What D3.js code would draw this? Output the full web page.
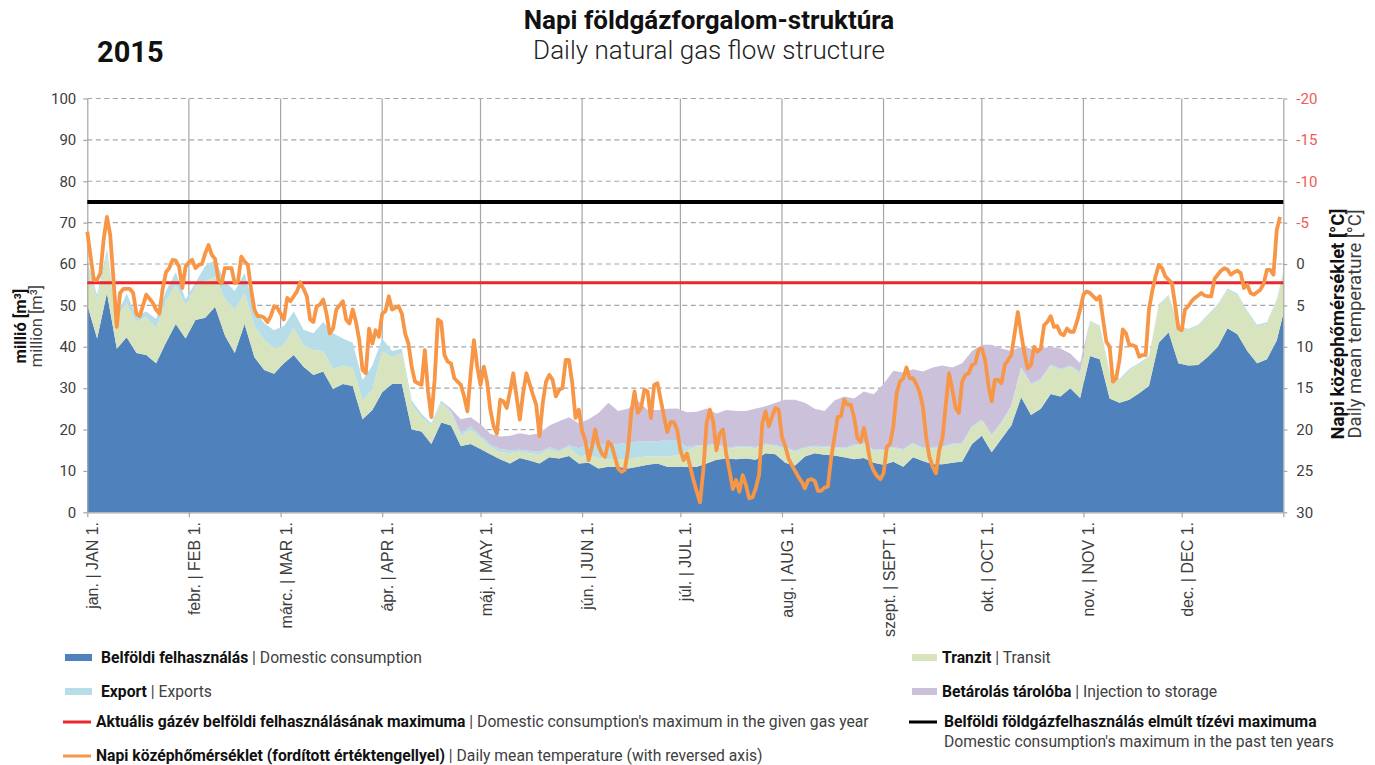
<!DOCTYPE html>
<head>
    <meta charset="utf-8">
    <title>Napi földgázforgalom-struktúra 2015</title>
    <script src="https://d3js.org/d3.v7.min.js"></script>
    <style>
        body { margin: 0; background: #fff; }
        svg { font-family: Roboto, "Open Sans", sans-serif; }
    </style>
</head>
<body>
<div id="container"></div>
<script>
    //------------------------------DATA------------------------------//
    // sampled every 3rd day of 2015 (day 0 = Jan 1), million m3 per day
    var areaDays = [0, 3, 6, 9, 12, 15, 18, 21, 24, 27, 30,
        33, 36, 39, 42, 45, 48, 51, 54, 57,
        60, 63, 66, 69, 72, 75, 78, 81, 84, 87,
        90, 93, 96, 99, 102, 105, 108, 111, 114, 117,
        120, 123, 126, 129, 132, 135, 138, 141, 144, 147,
        150, 153, 156, 159, 162, 165, 168, 171, 174, 177,
        180, 183, 186, 189, 192, 195, 198, 201, 204, 207, 210,
        213, 216, 219, 222, 225, 228, 231, 234, 237, 240,
        243, 246, 249, 252, 255, 258, 261, 264, 267, 270,
        273, 276, 279, 282, 285, 288, 291, 294, 297, 300, 303,
        306, 309, 312, 315, 318, 321, 324, 327, 330, 333,
        336, 339, 342, 345, 348, 351, 354, 357, 360, 363, 365];

    var domestic = [50.1, 42, 53, 39.5, 42.3, 38.5, 38, 36, 41, 45.5, 42,
        46.5, 47, 49.7, 42.7, 38.5, 45.5, 37.5, 34.4, 33.5,
        36, 38, 35.2, 33.2, 34, 29.8, 31, 30.5, 22.5, 24.7,
        29, 31, 31, 20, 19.5, 16.5, 21.7, 21, 16, 16.5,
        15.3, 14, 12.8, 11.8, 13.1, 12.5, 11.8, 13.3, 13, 13.6,
        11.8, 12, 10.6, 11, 11, 10.6, 11, 11.5, 11.8, 11,
        11, 11, 11, 11.8, 12.7, 13, 12.8, 13, 12.7, 14.3, 14,
        12, 11.3, 13.5, 14.3, 13.9, 13.7, 13.3, 12.8, 13.1, 12,
        11.5, 12.2, 11, 13.3, 12.4, 11.6, 11.6, 12, 12.3, 16.5,
        18.5, 14.5, 17.8, 21, 27.8, 23.5, 25, 28.6, 28, 30, 27.6,
        37.8, 37, 27.5, 26.5, 27.2, 28.8, 30.5, 41, 43.5, 36,
        35.5, 35.6, 37.6, 40, 44.5, 43, 39, 36, 37, 41.5, 48];

    var transit = [9.4, 9.5, 9, 7.5, 8.2, 7.5, 9.2, 8.5, 10, 9.5, 8,
        8.1, 8.8, 7.3, 8.8, 10.5, 7.5, 7.5, 7.3, 6,
        4.5, 6.5, 5.2, 6, 5, 4.8, 4.5, 4.5, 4.5, 4.9,
        10, 6.5, 7.5, 6, 3.5, 4.5, 4.8, 3, 2.5, 3.5,
        2.7, 1.8, 1.8, 2.5, 1.6, 1.8, 2.2, 2, 1.5, 2.2,
        1.8, 1.8, 2.5, 1.9, 1.7, 2.2, 2.3, 2, 1.7, 2.5,
        2.8, 4, 4.9, 4.1, 3.6, 2.3, 2.8, 2.7, 2.8, 2, 1.9,
        3.5, 3.3, 2, 1.5, 1.8, 1.8, 2, 3.2, 3.4, 2.8,
        3.5, 3.3, 4, 3.2, 2.9, 3.9, 4, 4.3, 4.2, 4,
        3.7, 4, 3.7, 4.5, 7, 7.3, 7, 6.8, 6.4, 5.2, 6,
        8.2, 7.8, 6.3, 5.5, 7.2, 7, 7, 9, 8.7, 8.9,
        8.5, 9.4, 9.9, 10, 9.2, 9.5, 9.3, 8.9, 8.5, 9.5, 9.8];

    var exportVol = [1.1, 1, 1.5, 0.5, 2.4, 1.5, 1.3, 2.3, 2.5, 3, 1.5,
        0.9, 3.8, 4, 4.3, 4.5, 4.8, 4, 4, 4.5,
        4.5, 4, 3.7, 4.1, 7, 8.7, 6.5, 6, 5, 5.9,
        3, 1.5, 1, 1, 0.8, 0.5, 0.5, 0.5, 0.7, 0.8,
        0.6, 0.5, 0.7, 0.7, 0.4, 0.6, 0.7, 0.4, 0.5, 0.4,
        1.9, 2.7, 3.2, 3.4, 3.8, 4, 3.8, 3.6, 3.7, 4,
        3.7, 0.8, 0.3, 0.3, 0.3, 0.3, 0.3, 0.3, 0.3, 0.3, 0.3,
        0.3, 0.3, 0.3, 0.3, 0.3, 0.3, 0.3, 0.3, 0.3, 0.3,
        0.3, 0.3, 0.3, 0.3, 0.3, 0.3, 0.3, 0.3, 0.3, 0.3,
        0.3, 0.3, 0.3, 0.3, 0.3, 0.3, 0.3, 0.3, 0.3, 0.3, 0.3,
        0.3, 0.3, 0.3, 0.3, 0.3, 0.3, 0.3, 0.3, 0.3, 0.3,
        0.3, 0.3, 0.3, 0.3, 0.4, 0.4, 0.4, 0.4, 0.4, 0.4, 0.4];

    var injection = [0, 0, 0, 0, 0, 0, 0, 0, 0, 0, 0,
        0, 0, 0, 0, 0, 0, 0, 0, 0,
        0, 0, 0, 0, 0, 0, 0, 0, 0, 0,
        0, 0, 0, 0, 0, 0, 0, 0.5, 3.3, 2.2,
        2.7, 2.7, 3, 3.5, 4, 3.8, 4.4, 5.3, 7, 6.8,
        6, 6, 7.7, 10.2, 8, 8.2, 9.9, 7.6, 7.5, 7.5,
        7.6, 8.4, 8.1, 8.9, 7.3, 9.1, 8.6, 8.5, 9.3, 9, 10.3,
        11.4, 12.3, 10.7, 8.9, 8.5, 11.2, 12.4, 11.2, 12.4, 13.4,
        15.7, 18.4, 18.5, 17.8, 18.4, 19.2, 19.6, 18.4, 19.2, 18.2,
        18, 21.7, 17.8, 13.2, 4.9, 8.4, 7.3, 4.3, 4.9, 2.9, 2.1,
        0, 0, 0, 0, 0, 0, 0, 0, 0, 0,
        0, 0, 0, 0, 0, 0, 0, 0, 0, 0, 0];

    // daily mean temperature, °C, one value per day (Jan 1 .. Dec 31)
    var tempC = [
        -3.9, -0.9, 1.9, 1.9, 1.1, -3.0, -5.7, -3.5, 1.9, 7.6,
        3.5, 3.0, 3.0, 3.0, 3.5, 6.0, 6.3, 5.0, 3.7, 4.2,
        4.7, 5.5, 6.0, 3.0, 1.0, 0.5, -0.5, -0.4, 0.3, 2.9,
        0.3, -0.2, -0.5, 0.5, 0.1, 0.0, -1.3, -2.3, -1.1, -0.6,
        1.9, 2.3, 0.5, 0.5, 0.5, 2.3, 2.1, -0.9, -0.3, 0.1,
        3.1, 5.5, 6.3, 6.3, 6.5, 7.0, 6.3, 5.1, 5.3, 6.0,
        6.7, 4.1, 4.5, 3.9, 3.3, 2.2, 3.0, 3.9, 6.7, 7.0,
        5.1, 4.9, 4.3, 6.0, 8.4, 7.8, 5.5, 5.0, 4.5, 6.7,
        7.2, 5.5, 7.0, 9.2, 12.8, 13.2, 7.8, 9.6, 8.0, 8.8,
        6.0, 5.7, 3.9, 5.5, 5.3, 5.1, 6.0, 8.4, 9.6, 12.4,
        14.2, 14.4, 14.6, 10.4, 15.4, 18.5, 14.0, 6.7, 7.0, 11.0,
        11.8, 12.0, 13.8, 14.2, 14.6, 16.0, 17.8, 13.2, 9.2, 12.4,
        14.6, 12.4, 14.2, 17.6, 19.6, 20.5, 16.4, 16.6, 17.4, 15.4,
        13.2, 16.0, 18.8, 15.6, 13.2, 14.5, 15.8, 17.0, 20.8, 16.8,
        14.2, 13.4, 14.0, 16.0, 15.2, 15.0, 11.6, 11.6, 14.4, 18.6,
        17.6, 20.2, 21.3, 23.7, 22.1, 20.0, 21.9, 22.9, 23.3, 21.5,
        21.9, 23.3, 24.7, 25.1, 24.9, 22.5, 18.0, 15.4, 18.0, 17.4,
        15.2, 15.4, 18.6, 14.6, 14.4, 16.4, 18.4, 20.3, 19.1, 19.1,
        20.0, 22.5, 23.7, 22.9, 24.5, 26.1, 27.5, 28.8, 24.9, 19.2,
        17.6, 19.0, 22.5, 20.5, 20.0, 23.0, 25.0, 27.2, 26.1, 27.5,
        25.5, 26.7, 28.3, 28.2, 27.1, 25.5, 19.2, 17.8, 19.6, 18.4,
        17.4, 17.6, 20.9, 22.0, 23.5, 24.3, 25.0, 25.7, 26.3, 27.1,
        26.1, 26.0, 26.2, 27.4, 27.4, 27.0, 26.9, 23.5, 21.0, 18.5,
        18.4, 16.4, 17.0, 17.0, 18.5, 21.0, 21.5, 19.8, 21.7, 24.0,
        25.0, 25.6, 26.0, 25.3, 22.1, 21.7, 19.6, 15.6, 14.2, 13.8,
        12.5, 13.8, 13.8, 14.5, 15.5, 17.2, 20.9, 23.3, 24.5, 25.3,
        22.5, 21.0, 17.0, 13.2, 15.2, 17.4, 18.0, 14.2, 13.4, 13.2,
        12.2, 12.0, 10.4, 10.2, 11.6, 14.6, 16.6, 14.0, 14.0, 14.4,
        12.2, 11.6, 11.0, 8.4, 5.8, 8.4, 10.8, 12.6, 12.2, 10.0,
        10.6, 10.2, 7.4, 7.0, 6.3, 7.6, 7.5, 8.4, 8.6, 7.8,
        8.2, 8.2, 7.0, 5.5, 3.7, 3.3, 3.5, 3.9, 4.3, 3.9,
        6.7, 9.4, 10.0, 14.2, 13.8, 11.6, 7.9, 8.4, 9.8, 9.8,
        10.0, 11.2, 11.0, 11.0, 5.5, 3.3, 1.5, 0.1, 0.5, 1.5,
        1.9, 2.3, 5.0, 7.8, 8.0, 5.5, 5.1, 4.5, 4.1, 3.8,
        3.5, 3.8, 3.9, 3.9, 1.8, 1.3, 0.8, 0.5, 0.7, 1.3,
        1.0, 0.8, 1.1, 2.9, 2.5, 3.5, 3.7, 3.4, 3.1, 2.4,
        0.7, 0.7, 1.3, -4.1, -5.7];

    var currentYearMax = 55.5;   // Aktuális gázév belföldi felhasználásának maximuma
    var tenYearMax = 75;         // elmúlt tízévi maximum

    var monthStarts = [0, 31, 59, 90, 120, 151, 181, 212, 243, 273, 304, 334];
    var monthLabels = ["jan. | JAN 1.", "febr. | FEB 1.", "márc. | MAR 1.", "ápr. | APR 1.",
        "máj. | MAY 1.", "jún. | JUN 1.", "júl. | JUL 1.", "aug. | AUG 1.",
        "szept. | SEPT 1.", "okt. | OCT 1.", "nov. | NOV 1.", "dec. | DEC 1."];
    var flowTicks = [0, 10, 20, 30, 40, 50, 60, 70, 80, 90, 100];
    var tempTicks = [-20, -15, -10, -5, 0, 5, 10, 15, 20, 25, 30];

    //------------------------------SETUP-----------------------------//
    var W = 1375, H = 765;
    var plot = { left: 87.3, right: 1283.3, top: 98.5, bottom: 512.3 };
    var gridColor = "#a6a6a6", textColor = "#3d3d3d";

    var svg = d3.select("#container").append("svg")
        .attr("width", W).attr("height", H);

    var x = d3.scaleLinear().domain([0, 365]).range([plot.left, plot.right]);
    var y = d3.scaleLinear().domain([0, 100]).range([plot.bottom, plot.top]);
    var yT = d3.scaleLinear().domain([30, -20]).range([plot.bottom, plot.top]);

    //------------------------------TITLES----------------------------//
    svg.append("text").attr("x", 709).attr("y", 29)
        .attr("text-anchor", "middle").attr("font-size", 26).attr("font-weight", 700)
        .attr("fill", "#111").text("Napi földgázforgalom-struktúra");
    svg.append("text").attr("x", 709).attr("y", 59)
        .attr("text-anchor", "middle").attr("font-size", 26).attr("font-weight", 300)
        .attr("fill", "#222").text("Daily natural gas flow structure");
    svg.append("text").attr("x", 97).attr("y", 62)
        .attr("font-size", 29).attr("font-weight", 700)
        .attr("fill", "#111").text("2015");

    //------------------------------GRID------------------------------//
    svg.append("g")
        .selectAll("line")
        .data(flowTicks.filter(d => d > 0))
        .join("line")
        .attr("x1", plot.left).attr("x2", plot.right)
        .attr("y1", d => y(d)).attr("y2", d => y(d))
        .attr("stroke", gridColor).attr("stroke-width", 1.2)
        .attr("stroke-dasharray", "5,3.5");

    svg.append("g")
        .selectAll("line")
        .data(monthStarts.slice(1))
        .join("line")
        .attr("x1", d => x(d)).attr("x2", d => x(d))
        .attr("y1", plot.top).attr("y2", plot.bottom)
        .attr("stroke", gridColor).attr("stroke-width", 1.2);

    //------------------------------AREAS-----------------------------//
    var rows = areaDays.map(function (d, i) {
        return { day: d, domestic: domestic[i], transit: transit[i], exports: exportVol[i], injection: injection[i] };
    });
    var keys = ["domestic", "transit", "exports", "injection"];
    var colors = { domestic: "#4f81bd", transit: "#d7e4bd", exports: "#b7dee8", injection: "#ccc1da" };
    var series = d3.stack().keys(keys)(rows);

    var area = d3.area()
        .x(d => x(d.data.day))
        .y0(d => y(d[0]))
        .y1(d => y(d[1]));

    svg.append("g")
        .selectAll("path")
        .data(series)
        .join("path")
        .attr("fill", d => colors[d.key])
        .attr("d", area);

    //------------------------------AXES------------------------------//
    var leftAxis = svg.append("g")
        .attr("transform", "translate(" + plot.left + ",0)")
        .call(d3.axisLeft(y).tickValues(flowTicks).tickSize(4).tickSizeOuter(0).tickPadding(7));
    var rightAxis = svg.append("g")
        .attr("transform", "translate(" + plot.right + ",0)")
        .call(d3.axisRight(yT).tickValues(tempTicks).tickSize(4).tickSizeOuter(0).tickPadding(9)
            .tickFormat(d => String(d)));
    var bottomAxis = svg.append("g")
        .attr("transform", "translate(0," + plot.bottom + ")")
        .call(d3.axisBottom(x).tickValues(monthStarts.concat([365])).tickSize(5).tickSizeOuter(0).tickFormat(""));

    [leftAxis, rightAxis, bottomAxis].forEach(function (g) {
        g.select(".domain").attr("stroke", gridColor).attr("stroke-width", 1.2);
        g.selectAll(".tick line").attr("stroke", gridColor).attr("stroke-width", 1.2);
        g.selectAll(".tick text").attr("font-size", 15).attr("fill", textColor)
            .attr("font-family", "Roboto, sans-serif");
    });
    rightAxis.selectAll(".tick text").attr("fill", d => d < 0 ? "#f05a55" : textColor);

    svg.append("g")
        .selectAll("text")
        .data(monthStarts)
        .join("text")
        .attr("transform", (d) => "translate(" + (x(d) + 11) + ",522) rotate(-90)")
        .attr("text-anchor", "end")
        .attr("font-family", "'Liberation Sans', Arial, sans-serif")
        .attr("font-size", 16)
        .attr("fill", textColor)
        .text((d, i) => monthLabels[i]);

    // axis titles
    svg.append("text")
        .attr("transform", "translate(26,326) rotate(-90)")
        .attr("text-anchor", "middle").attr("font-size", 16.5).attr("font-weight", 700).attr("fill", "#111")
        .text("millió [m³]");
    svg.append("text")
        .attr("transform", "translate(42,326) rotate(-90)")
        .attr("text-anchor", "middle").attr("font-size", 16.5).attr("fill", textColor)
        .text("million [m³]");

    svg.append("text")
        .attr("transform", "translate(1344,324) rotate(-90)")
        .attr("text-anchor", "middle").attr("font-size", 18.5).attr("font-weight", 700).attr("fill", "#111")
        .text("Napi középhőmérséklet [°C]");
    svg.append("text")
        .attr("transform", "translate(1361,324) rotate(-90)")
        .attr("text-anchor", "middle").attr("font-size", 18.5).attr("fill", textColor)
        .text("Daily mean temperature  [°C]");

    //------------------------------LINES-----------------------------//
    svg.append("line")
        .attr("x1", plot.left).attr("x2", plot.right)
        .attr("y1", y(tenYearMax)).attr("y2", y(tenYearMax))
        .attr("stroke", "#000").attr("stroke-width", 4);
    svg.append("line")
        .attr("x1", plot.left).attr("x2", plot.right)
        .attr("y1", y(currentYearMax)).attr("y2", y(currentYearMax))
        .attr("stroke", "#e8282c").attr("stroke-width", 3);

    svg.append("path")
        .datum(tempC)
        .attr("fill", "none")
        .attr("stroke", "#f79646")
        .attr("stroke-width", 3.8)
        .attr("stroke-linejoin", "round")
        .attr("d", d3.line().x((d, i) => x(i)).y(d => yT(d)));

    //------------------------------LEGEND----------------------------//
    function legendText(tx, ty, bold, rest) {
        var t = svg.append("text").attr("x", tx).attr("y", ty).attr("font-size", 15.7);
        t.append("tspan").attr("font-weight", 700).attr("fill", "#111").text(bold);
        if (rest) t.append("tspan").attr("fill", "#404040").text(rest);
        return t;
    }

    svg.append("rect").attr("x", 65).attr("y", 654).attr("width", 27).attr("height", 7).attr("fill", colors.domestic);
    legendText(101, 663, "Belföldi felhasználás", " | Domestic consumption");
    svg.append("rect").attr("x", 65).attr("y", 688).attr("width", 27).attr("height", 7).attr("fill", colors.exports);
    legendText(101, 697, "Export", " | Exports");
    svg.append("line").attr("x1", 63).attr("x2", 91).attr("y1", 722).attr("y2", 722)
        .attr("stroke", "#e8282c").attr("stroke-width", 3);
    legendText(96, 727, "Aktuális gázév belföldi felhasználásának maximuma", " | Domestic consumption's maximum in the given gas year");
    svg.append("line").attr("x1", 63).attr("x2", 91).attr("y1", 756).attr("y2", 756)
        .attr("stroke", "#f79646").attr("stroke-width", 3);
    legendText(96, 761, "Napi középhőmérséklet (fordított értéktengellyel)", " | Daily mean temperature (with reversed axis)");

    svg.append("rect").attr("x", 912).attr("y", 654).attr("width", 25).attr("height", 7).attr("fill", colors.transit);
    legendText(942, 663, "Tranzit", " | Transit");
    svg.append("rect").attr("x", 912).attr("y", 688).attr("width", 25).attr("height", 7).attr("fill", colors.injection);
    legendText(942, 697, "Betárolás tárolóba", " | Injection to storage");
    svg.append("line").attr("x1", 909).attr("x2", 937).attr("y1", 722).attr("y2", 722)
        .attr("stroke", "#000").attr("stroke-width", 3);
    legendText(944, 727, "Belföldi földgázfelhasználás elmúlt tízévi maximuma", "");
    svg.append("text").attr("x", 944).attr("y", 747).attr("font-size", 15.7).attr("fill", "#404040")
        .text("Domestic consumption's maximum in the past ten years");
</script>
</body>
